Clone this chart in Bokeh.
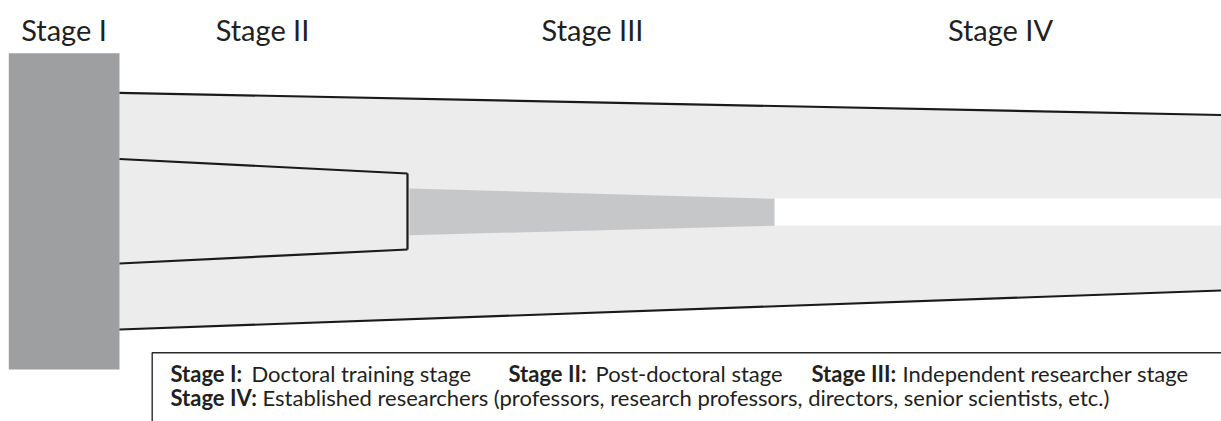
from bokeh.plotting import figure
from bokeh.models import Range1d
from bokeh.embed import file_html
from bokeh.resources import INLINE
from bokeh.core.properties import value

# ---- data (diagram units = reference pixels) ----
stages = ["Stage I", "Stage II", "Stage III", "Stage IV"]
stage_centers = [63.5, 262, 592, 1000]

stage1_x = [8.3, 119]
stage1_y = [52.7, 369]

outer_x = [119, 1221]
outer_top = [92.3, 114.5]
outer_bottom = [329, 290]

inner_x = [119, 407]
inner_top = [158.5, 173]
inner_bottom = [263, 249]

wedge_x = [409, 774]
wedge_top = [188, 198.3]
wedge_bottom = [234.7, 225.3]

gap_x = [774, 1221]
gap_y = [198, 225]

legend_terms = ["Stage I:", "Stage II:", "Stage III:", "Stage IV:"]
legend_defs = ["Doctoral training stage", "Post-doctoral stage",
               "Independent researcher stage",
               "Established researchers (professors, research professors, directors, senior scientists, etc.)"]
term_x = [170, 508, 811, 170]
def_x = [251, 595, 902, 262]
legend_y = [373, 373, 373, 397]

legend_box_x = [151.7, 151.7, 1225]
legend_box_y = [425, 352.3, 352.3]

FONT = "Lato"
INK = "#231f20"

W, H = 1221, 421
p = figure(width=W, height=H, output_backend="svg", toolbar_location=None,
           x_range=Range1d(0, W), y_range=Range1d(H, 0),
           min_border=0)
p.axis.visible = False
p.grid.visible = False
p.outline_line_color = None
p.background_fill_color = "white"
p.border_fill_color = "white"

# light grey pipeline body
p.patch(x=[outer_x[0], outer_x[1], outer_x[1], outer_x[0]],
        y=[outer_top[0], outer_top[1], outer_bottom[1], outer_bottom[0]],
        fill_color="#ececec", line_color=None)

# white gap for stage IV
p.quad(left=[gap_x[0]], right=[gap_x[1]], top=[gap_y[0]], bottom=[gap_y[1]],
       fill_color="white", line_color=None)

# stage III wedge
p.patch(x=[wedge_x[0], wedge_x[1], wedge_x[1], wedge_x[0]],
        y=[wedge_top[0], wedge_top[1], wedge_bottom[1], wedge_bottom[0]],
        fill_color="#c6c7c9", line_color=None)

# stage I block
p.quad(left=[stage1_x[0]], right=[stage1_x[1]], top=[stage1_y[0]], bottom=[stage1_y[1]],
       fill_color="#9e9fa1", line_color=None)

# outlines
p.multi_line(xs=[outer_x, outer_x, inner_x, inner_x, [inner_x[1], inner_x[1]]],
             ys=[outer_top, outer_bottom, inner_top, inner_bottom, [inner_top[1], inner_bottom[1]]],
             line_color="#1a1a1a", line_width=2.2)

# legend box
p.line(x=legend_box_x, y=legend_box_y, line_color="#2b2b2b", line_width=1.4)

# stage headers
p.text(x=stage_centers, y=[29] * 4, text=stages, text_font=value(FONT),
       text_font_size="29px", text_align="center", text_baseline="alphabetic",
       text_color=INK)

# legend texts
p.text(x=term_x, y=legend_y, text=legend_terms, text_font=value(FONT),
       text_font_size="22px", text_font_style="bold", text_align="left",
       text_baseline="alphabetic", text_color=INK)
p.text(x=def_x, y=legend_y, text=legend_defs, text_font=value(FONT),
       text_font_size="22px", text_align="left",
       text_baseline="alphabetic", text_color=INK)

open("out.html", "w").write(file_html(p, INLINE))
